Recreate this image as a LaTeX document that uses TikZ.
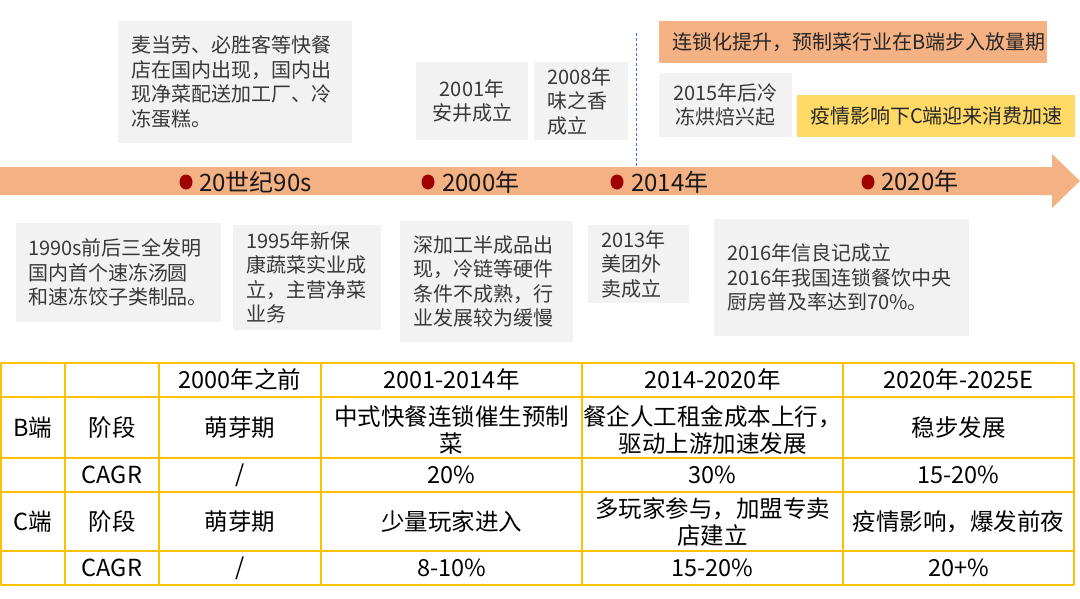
\documentclass[tikz,border=0pt]{standalone}
\usepackage{fontspec}
\setmainfont{Noto Sans CJK SC}
\usetikzlibrary{shapes.geometric}
\definecolor{boxgray}{HTML}{F2F2F2}
\definecolor{peach}{HTML}{F4B183}
\definecolor{gold}{HTML}{FFD966}
\definecolor{tline}{HTML}{FFC000}
\definecolor{dotred}{HTML}{A00000}
\definecolor{dline}{HTML}{4472C4}
\definecolor{txtgray}{HTML}{383838}
\begin{document}
\begin{tikzpicture}[x=1pt,y=-1pt,
  boxbase/.style={anchor=north west, inner ysep=0pt, outer sep=0pt,
    font=\fontsize{20}{24.5}\selectfont, text=txtgray},
  gbox/.style={boxbase, fill=boxgray},
  obox/.style={boxbase, fill=peach, text=black!85},
  ybox/.style={boxbase, fill=gold, text=black!85},
  lbox/.style n args={3}{minimum width=#1pt, minimum height=#2pt,
    inner xsep=#3pt, align=left},
  cbox/.style 2 args={minimum width=#1pt, minimum height=#2pt,
    inner xsep=0pt, align=center},
  dotn/.style={ellipse, fill=dotred, draw=none, inner sep=0pt,
    minimum width=13pt, minimum height=15pt},
  tlab/.style={anchor=base west, inner sep=0pt,
    font=\fontsize{24}{28}\selectfont, text=black!90},
  cell/.style={inner sep=0pt, align=center,
    font=\fontsize{23.5}{27}\selectfont, text=black},
  grid/.style={draw=tline, line width=1.6pt},
  dashln/.style={draw=dline, line width=0.8pt, dash pattern=on 3pt off 2pt}
]
\useasboundingbox (0,0) rectangle (1080,598);
\fill[white] (0,0) rectangle (1080,598);

% timeline arrow
\fill[peach] (0,167) -- (1052,167) -- (1052,154) -- (1080,181)
  -- (1052,208) -- (1052,195) -- (0,195) -- cycle;

% dashed separator
\coordinate (dtop) at (636,33);
\coordinate (dbot) at (636,167);
\draw[dashln] (dtop) -- (dbot);

% upper boxes
\node[gbox, lbox={234}{122}{13}, text width=208pt] (t1) at (118,21)
  {麦当劳、必胜客等快餐\\店在国内出现，国内出\\现净菜配送加工厂、冷\\冻蛋糕。};
\node[gbox, cbox={112}{78}] (t2) at (416,62) {2001年\\安井成立};
\node[gbox, lbox={94}{78}{13}, text width=68pt] (t3) at (534,62)
  {2008年\\味之香\\成立};
\node[obox, lbox={388}{42}{13}, text width=362pt] (t4) at (659,21)
  {连锁化提升，预制菜行业在B端步入放量期};
\node[gbox, cbox={133}{64}] (t5) at (659,73) {2015年后冷\\冻烘焙兴起};
\node[ybox, lbox={278}{42}{13}, text width=252pt] (t6) at (797,95)
  {疫情影响下C端迎来消费加速};

% lower boxes
\node[gbox, lbox={205}{99}{12}, text width=181pt] (b1) at (16,223)
  {1990s前后三全发明\\国内首个速冻汤圆\\和速冻饺子类制品。};
\node[gbox, lbox={148}{105}{13}, text width=122pt] (b2) at (233,225)
  {1995年新保\\康蔬菜实业成\\立，主营净菜\\业务};
\node[gbox, lbox={173}{121}{13}, text width=147pt] (b3) at (400,221)
  {深加工半成品出\\现，冷链等硬件\\条件不成熟，行\\业发展较为缓慢};
\node[gbox, lbox={101}{78}{13}, text width=75pt] (b4) at (588,225)
  {2013年\\美团外\\卖成立};
\node[gbox, lbox={255}{117}{13}, text width=229pt] (b5) at (714,219)
  {2016年信良记成立\\2016年我国连锁餐饮中央\\厨房普及率达到70\%。};

% timeline dots and labels
\node[dotn] (d1) at (186,182) {};
\node[dotn] (d2) at (428,182) {};
\node[dotn] (d3) at (617,182) {};
\node[dotn] (d4) at (868,182) {};
\node[tlab] (l1) at (199,191) {20世纪90s};
\node[tlab] (l2) at (442,191) {2000年};
\node[tlab] (l3) at (631,191) {2014年};
\node[tlab] (l4) at (881,190) {2020年};

% table grid
\foreach \yy in {363,397,458,492,551,585}
  \draw[grid] (1,\yy) -- (1074,\yy);
\foreach \xx in {1,65,159,321,582,843,1074}
  \draw[grid] (\xx,363) -- (\xx,585);

% header row
\node[cell] (h3) at (240,380) {2000年之前};
\node[cell] (h4) at (451.5,380) {2001-2014年};
\node[cell] (h5) at (712.5,380) {2014-2020年};
\node[cell] (h6) at (958.5,380) {2020年-2025E};
% B rows
\node[cell] (bB) at (33,427.5) {B端};
\node[cell] (bs) at (112,427.5) {阶段};
\node[cell] (b3c) at (240,427.5) {萌芽期};
\node[cell] (b4c) at (451.5,430) {中式快餐连锁催生预制\\菜};
\node[cell] (b5c) at (712.5,430) {餐企人工租金成本上行，\\驱动上游加速发展};
\node[cell] (b6c) at (958.5,427.5) {稳步发展};
\node[cell] (bg) at (112,475) {CAGR};
\node[cell] (bg3) at (240,475) {/};
\node[cell] (bg4) at (451.5,475) {20\%};
\node[cell] (bg5) at (712.5,475) {30\%};
\node[cell] (bg6) at (958.5,475) {15-20\%};
% C rows
\node[cell] (cC) at (33,521.5) {C端};
\node[cell] (cs) at (112,521.5) {阶段};
\node[cell] (c3c) at (240,521.5) {萌芽期};
\node[cell] (c4c) at (451.5,521.5) {少量玩家进入};
\node[cell] (c5c) at (712.5,522) {多玩家参与，加盟专卖\\店建立};
\node[cell] (c6c) at (958.5,521.5) {疫情影响，爆发前夜};
\node[cell] (cg) at (112,568) {CAGR};
\node[cell] (cg3) at (240,568) {/};
\node[cell] (cg4) at (451.5,568) {8-10\%};
\node[cell] (cg5) at (712.5,568) {15-20\%};
\node[cell] (cg6) at (958.5,568) {20+\%};
\end{tikzpicture}
\end{document}
